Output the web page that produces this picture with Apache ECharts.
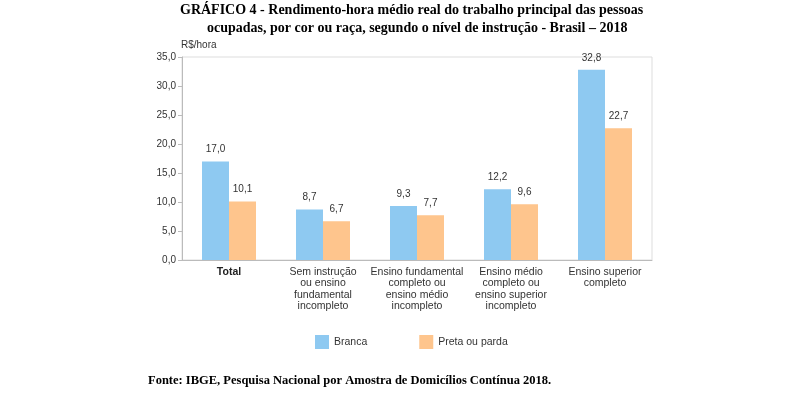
<!DOCTYPE html>
<html>
<head>
<meta charset="utf-8">
<script src="https://cdn.jsdelivr.net/npm/echarts@6/dist/echarts.min.js"></script>
<style>
  html, body { margin: 0; padding: 0; background: #ffffff; }
  #chart { width: 800px; height: 398px; }
</style>
</head>
<body>
<div id="chart"></div>
<script>
  const categories = [
    'Total',
    'Sem instrução\nou ensino\nfundamental\nincompleto',
    'Ensino fundamental\ncompleto ou\nensino médio\nincompleto',
    'Ensino médio\ncompleto ou\nensino superior\nincompleto',
    'Ensino superior\ncompleto'
  ];
  const branca = [17.0, 8.7, 9.3, 12.2, 32.8];
  const pretaParda = [10.1, 6.7, 7.7, 9.6, 22.7];
  const seriesNames = ['Branca', 'Preta ou parda'];

  const fmt = v => v.toFixed(1).replace('.', ',');
  const sans = 'Liberation Sans';

  const myChart = echarts.init(document.getElementById('chart'));
  const option = {
    animation: false,
    graphic: [
      {
        type: 'text',
        left: 180,
        top: 3,
        style: {
          text: 'GRÁFICO 4 - Rendimento-hora médio real do trabalho principal das pessoas',
          font: 'bold 14px "Liberation Serif"',
          fill: '#000'
        }
      },
      {
        type: 'text',
        left: 207,
        top: 21,
        style: {
          text: 'ocupadas, por cor ou raça, segundo o nível de instrução - Brasil – 2018',
          font: 'bold 14px "Liberation Serif"',
          fill: '#000'
        }
      },
      {
        type: 'text',
        left: 148,
        top: 374,
        style: {
          text: 'Fonte: IBGE, Pesquisa Nacional por Amostra de Domicílios Contínua 2018.',
          font: 'bold 12.5px "Liberation Serif"',
          fill: '#000'
        }
      }
    ],
    legend: {
      top: 330,
      left: 310,
      itemWidth: 14,
      itemHeight: 14,
      itemGap: 52,
      icon: 'rect',
      textStyle: { fontFamily: sans, fontSize: 10.5, color: '#333' },
      data: seriesNames
    },
    grid: {
      left: 182,
      right: 148,
      top: 57,
      height: 203,
      show: true,
      borderColor: '#ddd',
      borderWidth: 1
    },
    xAxis: {
      type: 'category',
      data: categories,
      axisTick: { show: false },
      axisLine: { lineStyle: { color: '#bbb' } },
      axisLabel: {
        interval: 0,
        color: '#333',
        fontFamily: sans,
        fontSize: 10.5,
        lineHeight: 11.5,
        margin: 6,
        formatter: v => v === 'Total' ? '{b|' + v + '}' : v,
        rich: { b: { fontWeight: 'bold', fontSize: 10.5, fontFamily: sans, color: '#222' } }
      }
    },
    yAxis: {
      type: 'value',
      min: 0,
      max: 35,
      interval: 5,
      name: 'R$/hora',
      nameLocation: 'end',
      nameGap: 7,
      nameTextStyle: { align: 'left', padding: [0, 0, 0, -1], color: '#333', fontFamily: sans, fontSize: 10 },
      axisLine: { show: true, lineStyle: { color: '#bbb' } },
      axisTick: { show: true, length: 4, lineStyle: { color: '#bbb' } },
      splitLine: { show: false },
      axisLabel: {
        color: '#333',
        fontFamily: sans,
        fontSize: 10,
        margin: 6,
        formatter: v => fmt(v)
      }
    },
    series: [
      {
        name: seriesNames[0],
        type: 'bar',
        data: branca,
        barWidth: 27,
        barGap: '0%',
        itemStyle: { color: '#8ec9f1' },
        label: { show: true, position: 'top', distance: 7, color: '#333', fontFamily: sans, fontSize: 10, formatter: p => fmt(p.value) }
      },
      {
        name: seriesNames[1],
        type: 'bar',
        data: pretaParda,
        barWidth: 27,
        itemStyle: { color: '#fec58d' },
        label: { show: true, position: 'top', distance: 7, color: '#333', fontFamily: sans, fontSize: 10, formatter: p => fmt(p.value) }
      }
    ]
  };
  myChart.setOption(option);
</script>
</body>
</html>
